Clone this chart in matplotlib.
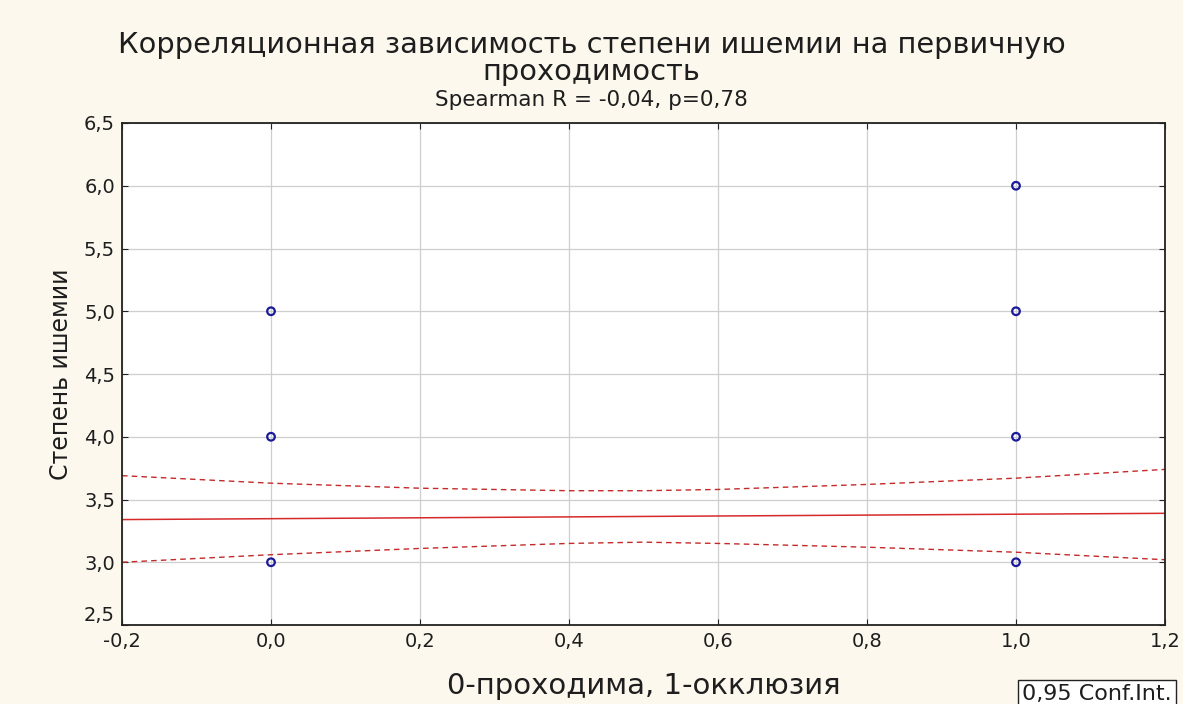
import numpy as np
import matplotlib.pyplot as plt

plt.rcParams['font.family'] = ['DejaVu Sans']

# observations
x_pts = [0, 0, 0, 1, 1, 1, 1]
y_pts = [3, 4, 5, 3, 4, 5, 6]

# regression line and 0.95 confidence band
fit_x = [-0.2, 1.2]
fit_y = [3.34, 3.39]
ci_x = [-0.2, 0.0, 0.2, 0.4, 0.5, 0.6, 0.8, 1.0, 1.2]
ci_hi = [3.69, 3.63, 3.59, 3.57, 3.57, 3.58, 3.62, 3.67, 3.74]
ci_lo = [3.00, 3.06, 3.11, 3.15, 3.16, 3.15, 3.12, 3.08, 3.02]

bg = '#fcf8ee'
txt = '#1e1e1e'
fig = plt.figure(figsize=(11.83, 7.04), dpi=100, facecolor=bg)
ax = fig.add_axes([122/1183, 1-625/704, (1165-122)/1183, (625-123)/704])

ax.grid(color='#cfcfcf', lw=0.9)
ax.set_axisbelow(True)
ax.plot(fit_x, fit_y, color='#d62a2a', lw=1.1)
ax.plot(ci_x, ci_hi, color='#c42a2a', lw=1.0, ls=(0, (4, 3)))
ax.plot(ci_x, ci_lo, color='#c42a2a', lw=1.0, ls=(0, (4, 3)))
ax.scatter(x_pts, y_pts, s=30, facecolors='none', edgecolors='#1a1a9a', lw=1.6, zorder=5)

ax.set_xlim(-0.2, 1.2)
ax.set_ylim(2.5, 6.5)
xt = np.arange(-0.2, 1.21, 0.2)
yt = np.arange(2.5, 6.51, 0.5)
ax.set_xticks(xt)
ax.set_yticks(yt)
ax.set_xticklabels([f'{v:.1f}'.replace('.', ',').replace('-0,0', '0,0') for v in xt])
ax.set_yticklabels([f'{v:.1f}'.replace('.', ',') for v in yt])
ax.tick_params(direction='in', top=True, right=True, labelsize=14, length=4,
               color='#222222', labelcolor=txt, pad=5)
ax.get_yticklabels()[0].set_verticalalignment('bottom')
for s in ax.spines.values():
    s.set_linewidth(1.3)
    s.set_color('#222222')

ax.set_xlabel('0-проходима, 1-окклюзия', fontsize=21, labelpad=15, color=txt)
ax.set_ylabel('Степень ишемии', fontsize=17, labelpad=8, color=txt)

fig.text(0.5, 1-45/704, 'Корреляционная зависимость степени ишемии на первичную',
         ha='center', va='center', fontsize=20.8, color=txt)
fig.text(0.5, 1-72/704, 'проходимость', ha='center', va='center', fontsize=20.8, color=txt)
fig.text(0.5, 1-100/704, 'Spearman R = -0,04, p=0,78', ha='center', va='center',
         fontsize=15.5, color=txt)

fig.text(1022/1183, 1-694/704, '0,95 Conf.Int.', ha='left', va='center', fontsize=16,
         color=txt, bbox=dict(boxstyle='square,pad=0.2', fc='white', ec='#222222', lw=1))

plt.savefig('out.png', dpi=100, facecolor=bg)
